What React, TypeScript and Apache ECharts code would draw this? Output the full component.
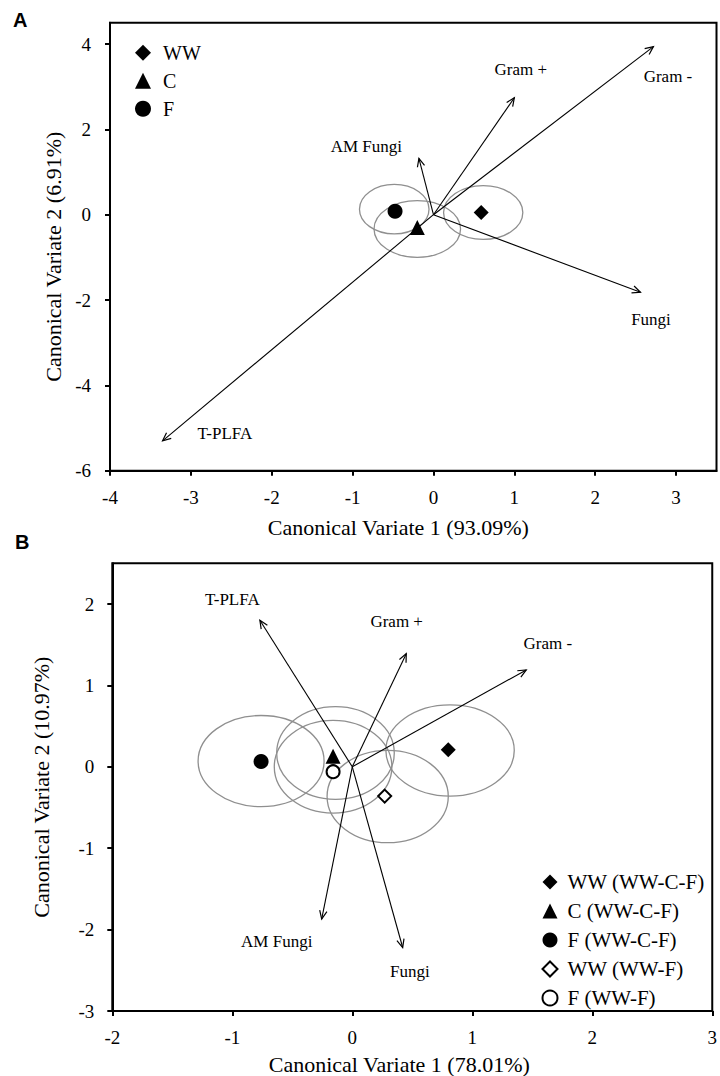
import React, { useEffect, useRef } from 'react';
import * as echarts from 'echarts';

// ---------- Axis ticks ----------
const xTicksA = [-4, -3, -2, -1, 0, 1, 2, 3];
const yTicksA = [-6, -4, -2, 0, 2, 4];
const xTicksB = [-2, -1, 0, 1, 2, 3];
const yTicksB = [-3, -2, -1, 0, 1, 2];

// ---------- Panel A: structure vectors ----------
const vectorNamesA = ['Gram +', 'Gram -', 'AM Fungi', 'Fungi', 'T-PLFA'];
const vectorTipXA = [1.0, 2.72, -0.18, 2.56, -3.35];
const vectorTipYA = [2.74, 3.94, 1.32, -1.82, -5.3];
const vectorLabelXA = [1.08, 2.9, -0.83, 2.69, -2.58];
const vectorLabelYA = [3.41, 3.23, 1.61, -2.46, -5.12];

// ---------- Panel A: group means and confidence ellipses ----------
const groupNamesA = ['WW', 'C', 'F'];
const groupSymbolsA = ['diamond', 'triangle', 'circle'];
const groupXA = [0.59, -0.2, -0.475];
const groupYA = [0.05, -0.3, 0.08];
const ellipseCxA = [0.615, -0.2, -0.485];
const ellipseCyA = [0.05, -0.335, 0.13];
const ellipseRxA = [0.49, 0.535, 0.43];
const ellipseRyA = [0.63, 0.665, 0.58];

// ---------- Panel B: structure vectors ----------
const vectorNamesB = ['T-PLFA', 'Gram +', 'Gram -', 'AM Fungi', 'Fungi'];
const vectorTipXB = [-0.77, 0.45, 1.45, -0.255, 0.42];
const vectorTipYB = [1.8, 1.39, 1.19, -1.87, -2.22];
const vectorLabelXB = [-1.0, 0.37, 1.63, -0.63, 0.48];
const vectorLabelYB = [2.06, 1.78, 1.52, -2.15, -2.52];

// ---------- Panel B: group means and confidence ellipses ----------
const groupNamesB = ['WW (WW-C-F)', 'C (WW-C-F)', 'F (WW-C-F)', 'WW (WW-F)', 'F (WW-F)'];
const groupSymbolsB = ['diamond', 'triangle', 'circle', 'diamond', 'circle'];
const groupFilledB = [true, true, true, false, false];
const groupXB = [0.8, -0.16, -0.76, 0.27, -0.16];
const groupYB = [0.21, 0.13, 0.065, -0.36, -0.06];
const ellipseCxB = [0.815, -0.14, -0.76, 0.295, -0.16];
const ellipseCyB = [0.2, 0.17, 0.07, -0.365, 0.0];
const ellipseRxB = [0.535, 0.49, 0.525, 0.505, 0.49];
const ellipseRyB = [0.56, 0.57, 0.56, 0.567, 0.57];

const SERIF = 'Liberation Serif';
const SANS = 'Liberation Sans';

function makeVectorRenderer(names: string[]) {
  return (params: any, api: any) => {
    const o = api.coord([0, 0]);
    const t = api.coord([api.value(0), api.value(1)]);
    const l = api.coord([api.value(2), api.value(3)]);
    const ang = Math.atan2(t[1] - o[1], t[0] - o[0]);
    const hl = 9;
    const ha = Math.PI / 7.5;
    const p1 = [t[0] - hl * Math.cos(ang - ha), t[1] - hl * Math.sin(ang - ha)];
    const p2 = [t[0] - hl * Math.cos(ang + ha), t[1] - hl * Math.sin(ang + ha)];
    return {
      type: 'group',
      children: [
        { type: 'line', shape: { x1: o[0], y1: o[1], x2: t[0], y2: t[1] }, style: { stroke: '#000', lineWidth: 1.1 } },
        { type: 'polyline', shape: { points: [p1, t, p2] }, style: { stroke: '#000', lineWidth: 1.2, fill: null } },
        {
          type: 'text',
          x: l[0],
          y: l[1],
          style: {
            text: names[params.dataIndex],
            align: 'center',
            verticalAlign: 'middle',
            fontFamily: SERIF,
            fontSize: 17,
            fill: '#000',
          },
        },
      ],
    };
  };
}

const renderEllipse = (_params: any, api: any) => {
  const c = api.coord([api.value(0), api.value(1)]);
  const s = api.size([api.value(2), api.value(3)]);
  return {
    type: 'ellipse',
    shape: { cx: c[0], cy: c[1], rx: s[0], ry: s[1] },
    style: { fill: 'none', stroke: '#8f8f8f', lineWidth: 1.3 },
  };
};

function axisCommon(ticks: number[]) {
  return {
    axisLine: { show: true, onZero: false, lineStyle: { color: '#000', width: 2 } },
    axisTick: { show: true, inside: false, length: 5, lineStyle: { color: '#000', width: 2 }, customValues: ticks },
    splitLine: { show: false },
  };
}

export default function App() {
  const ref = useRef<HTMLDivElement>(null);

  useEffect(() => {
    document.body.style.margin = '0';
    if (!ref.current) return;
    const chart = echarts.init(ref.current, null, { renderer: 'svg' });

    const vectorsA = vectorNamesA.map((n, i) => ({
      name: n,
      value: [vectorTipXA[i], vectorTipYA[i], vectorLabelXA[i], vectorLabelYA[i]],
    }));
    const vectorsB = vectorNamesB.map((n, i) => ({
      name: n,
      value: [vectorTipXB[i], vectorTipYB[i], vectorLabelXB[i], vectorLabelYB[i]],
    }));
    const ellipsesA = ellipseCxA.map((cx, i) => [cx, ellipseCyA[i], ellipseRxA[i], ellipseRyA[i]]);
    const ellipsesB = ellipseCxB.map((cx, i) => [cx, ellipseCyB[i], ellipseRxB[i], ellipseRyB[i]]);

    const scatterA = groupNamesA.map((n, i) => ({
      type: 'scatter',
      name: n,
      xAxisIndex: 0,
      yAxisIndex: 0,
      symbol: groupSymbolsA[i],
      symbolSize: 15,
      z: 5,
      itemStyle: { color: '#000', opacity: 1 },
      data: [[groupXA[i], groupYA[i]]],
    }));
    const scatterB = groupNamesB.map((n, i) => ({
      type: 'scatter',
      name: n,
      xAxisIndex: 1,
      yAxisIndex: 1,
      symbol: groupSymbolsB[i],
      symbolSize: groupFilledB[i] ? 15 : 13,
      z: 5,
      itemStyle: groupFilledB[i]
        ? { color: '#000', opacity: 1 }
        : { color: '#fff', borderColor: '#000', borderWidth: 2, opacity: 1 },
      data: [[groupXB[i], groupYB[i]]],
    }));

    const titleStyle = { fontFamily: SANS, fontWeight: 'bold', fontSize: 20, color: '#000' };
    const tickLabel = { fontFamily: SERIF, fontSize: 19, color: '#000' };
    const nameStyle = { fontFamily: SERIF, fontSize: 22, color: '#000' };

    const option: any = {
      animation: false,
      backgroundColor: '#fff',
      title: [
        { text: 'A', left: 8, top: 5, padding: 5, textStyle: titleStyle },
        { text: 'B', left: 10, top: 527, padding: 5, textStyle: titleStyle },
      ],
      grid: [
        { left: 110, top: 22.7, width: 606.5, height: 448, show: true, borderColor: '#000', borderWidth: 2, backgroundColor: 'transparent' },
        { left: 112.3, top: 563.3, width: 603.7, height: 449.4, show: true, borderColor: '#000', borderWidth: 2, backgroundColor: 'transparent' },
      ],
      xAxis: [
        {
          gridIndex: 0, type: 'value', min: -4, max: 3.5,
          name: 'Canonical Variate 1 (93.09%)', nameLocation: 'middle', nameGap: 46,
          nameTextStyle: { ...nameStyle, padding: [0, 30, 0, 0] },
          axisLabel: { customValues: xTicksA, margin: 17, ...tickLabel },
          ...axisCommon(xTicksA),
        },
        {
          gridIndex: 1, type: 'value', min: -2, max: 3,
          name: 'Canonical Variate 1 (78.01%)', nameLocation: 'middle', nameGap: 42,
          nameTextStyle: { ...nameStyle, padding: [0, 26, 0, 0] },
          axisLabel: { customValues: xTicksB, margin: 16.5, ...tickLabel },
          ...axisCommon(xTicksB),
        },
      ],
      yAxis: [
        {
          gridIndex: 0, type: 'value', min: -6, max: 4.5,
          name: 'Canonical Variate 2 (6.91%)', nameLocation: 'middle', nameGap: 46,
          nameTextStyle: { ...nameStyle, padding: [0, 20, 0, 0] },
          axisLabel: { customValues: yTicksA, margin: 19, ...tickLabel },
          ...axisCommon(yTicksA),
        },
        {
          gridIndex: 1, type: 'value', min: -3, max: 2.5,
          name: 'Canonical Variate 2 (10.97%)', nameLocation: 'middle', nameGap: 60,
          nameTextStyle: nameStyle,
          axisLabel: { customValues: yTicksB, margin: 18, ...tickLabel },
          ...axisCommon(yTicksB),
        },
      ],
      legend: [
        {
          data: groupNamesA.map((n, i) => ({ name: n, icon: groupSymbolsA[i] })),
          orient: 'vertical', left: 135, top: 42.7, itemWidth: 16, itemHeight: 16, itemGap: 8,
          padding: 0, selectedMode: false,
          textStyle: { fontFamily: SERIF, fontSize: 20, color: '#000', padding: [0, 0, 0, 7] },
        },
        {
          data: groupNamesB.map((n, i) => ({ name: n, icon: groupSymbolsB[i] })),
          orient: 'vertical', left: 541.5, top: 871.5, itemWidth: 15, itemHeight: 15, itemGap: 8,
          padding: 0, selectedMode: false,
          textStyle: { fontFamily: SERIF, fontSize: 21, color: '#000', padding: [0, 0, 0, 5] },
        },
      ],
      series: [
        { type: 'custom', name: 'ellipsesA', xAxisIndex: 0, yAxisIndex: 0, renderItem: renderEllipse, data: ellipsesA, z: 1, silent: true },
        { type: 'custom', name: 'vectorsA', xAxisIndex: 0, yAxisIndex: 0, renderItem: makeVectorRenderer(vectorNamesA), data: vectorsA, z: 2, silent: true },
        ...scatterA,
        { type: 'custom', name: 'ellipsesB', xAxisIndex: 1, yAxisIndex: 1, renderItem: renderEllipse, data: ellipsesB, z: 1, silent: true },
        { type: 'custom', name: 'vectorsB', xAxisIndex: 1, yAxisIndex: 1, renderItem: makeVectorRenderer(vectorNamesB), data: vectorsB, z: 2, silent: true },
        ...scatterB,
      ],
    };

    chart.setOption(option);
    return () => chart.dispose();
  }, []);

  return (
    <div
      ref={ref}
      style={{ position: 'absolute', left: 0, top: 0, width: 720, height: 1076, background: '#fff' }}
    />
  );
}
